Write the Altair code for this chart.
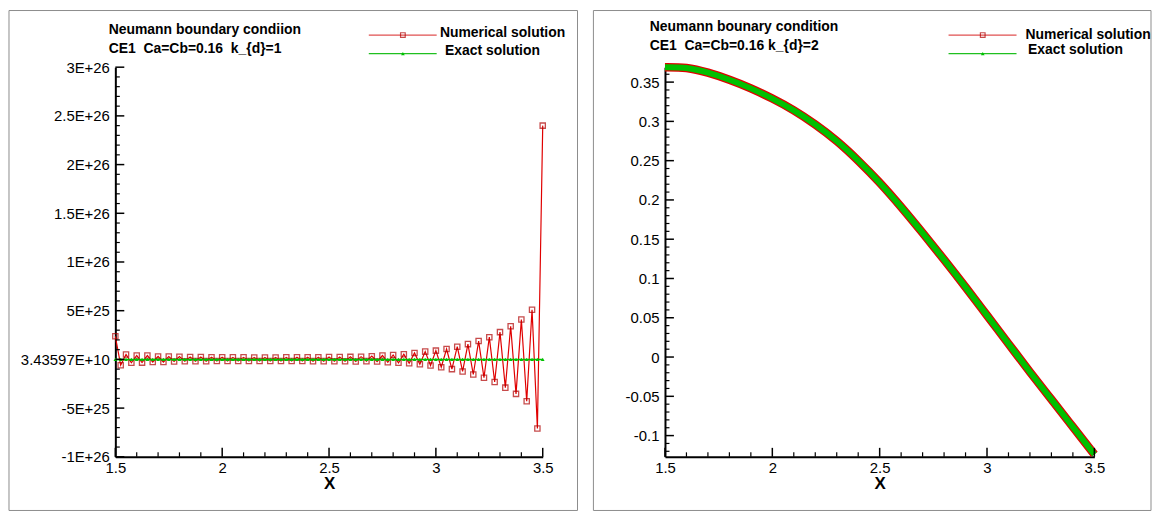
import altair as alt
import pandas as pd

# ---------------- data ----------------
# left panel (k_d = 1): grid 1.5 .. 3.5, step 0.025
x_left = [round(1.5 + 0.025 * i, 3) for i in range(81)]
num_left_e26 = [
    0.237, -0.060, 0.050, -0.035, 0.040, -0.033, 0.040, -0.027, 0.030, -0.027,
    0.030, -0.022, 0.028, -0.020, 0.025, -0.018, 0.024, -0.018, 0.022, -0.017,
    0.022, -0.017, 0.021, -0.016, 0.021, -0.016, 0.020, -0.016, 0.020, -0.016,
    0.020, -0.016, 0.021, -0.017, 0.021, -0.017, 0.022, -0.018, 0.023, -0.018,
    0.024, -0.019, 0.025, -0.020, 0.026, -0.021, 0.028, -0.018, 0.033, -0.022,
    0.040, -0.030, 0.045, -0.035, 0.053, -0.040, 0.066, -0.050, 0.080, -0.063,
    0.090, -0.080, 0.107, -0.100, 0.130, -0.124, 0.157, -0.155, 0.188, -0.188,
    0.228, -0.232, 0.280, -0.290, 0.340, -0.354, 0.410, -0.430, 0.510, -0.710,
    2.400,
]
num_left = [v * 1e26 for v in num_left_e26]
exact_left = [0.0] * 81

# right panel (k_d = 2)
x_right = [1.5, 1.6, 1.7, 1.8, 1.9, 2.0, 2.1, 2.2, 2.3, 2.4, 2.5,
           2.6, 2.7, 2.8, 2.9, 3.0, 3.1, 3.2, 3.3, 3.4, 3.5]
num_right = [0.369, 0.368, 0.362, 0.353, 0.342, 0.329, 0.314, 0.296, 0.275, 0.250, 0.222,
             0.191, 0.158, 0.124, 0.089, 0.053, 0.017, -0.019, -0.054, -0.089, -0.124]
exact_right = [0.369, 0.368, 0.362, 0.353, 0.342, 0.329, 0.314, 0.296, 0.275, 0.250, 0.222,
               0.191, 0.158, 0.124, 0.089, 0.053, 0.017, -0.019, -0.054, -0.089, -0.124]

# ticks
x_major = [1.5, 2.0, 2.5, 3.0, 3.5]
x_major_labels = ["1.5", "2", "2.5", "3", "3.5"]
x_minor = [round(1.5 + 0.1 * k, 2) for k in range(21) if k % 5 != 0]

yl_major = [-1e26, -5e25, 0.0, 5e25, 1e26, 1.5e26, 2e26, 2.5e26, 3e26]
yl_labels = ["-1E+26", "-5E+25", "3.43597E+10", "5E+25", "1E+26", "1.5E+26",
             "2E+26", "2.5E+26", "3E+26"]
yl_minor = [k * 1e25 for k in range(-10, 31) if k % 5 != 0]

yr_major = [-0.1, -0.05, 0.0, 0.05, 0.1, 0.15, 0.2, 0.25, 0.3, 0.35]
yr_labels = ["-0.1", "-0.05", "0", "0.05", "0.1", "0.15", "0.2", "0.25", "0.3", "0.35"]
yr_minor = [round(k * 0.01, 2) for k in range(-12, 37) if k % 5 != 0]

FONT = "Liberation Sans"
RED = "#e00000"
DARK = "#b00000"
GREEN = "#00c000"
FRAME = "#8c8c8c"
H = 392
NB = "\u00a0"


def label_expr(vals, labels, tol):
    e = "''"
    for v, l in zip(vals, labels):
        e = f"abs(datum.value - ({v:.10g})) < {tol:.10g} ? '{l}' : " + e
    return e


one = pd.DataFrame({"a": [0]})


def text(t, x, y, size=14):
    return alt.Chart(one).mark_text(
        align="left", baseline="middle", font=FONT, fontSize=size,
        fontWeight="bold", color="black"
    ).encode(x=alt.value(x), y=alt.value(y), text=alt.value(t))


def seg(x1, x2, y1, y2, color, w=1.2):
    return alt.Chart(one).mark_rule(color=color, strokeWidth=w).encode(
        x=alt.value(x1), x2=alt.value(x2), y=alt.value(y1), y2=alt.value(y2))


def panel(x, num, exact, ydom, ymaj, ylab, ymin, tol, W, titles, legend, frame, dense):
    xs = alt.Scale(domain=[1.5, 3.5], nice=False, zero=False)
    ys = alt.Scale(domain=ydom, nice=False, zero=False)
    xax = alt.Axis(orient="bottom", values=x_major,
                   labelExpr=label_expr(x_major, x_major_labels, 1e-6),
                   ticks=False, grid=False, domainColor="black", domainWidth=2,
                   labelFont=FONT, labelFontSize=15, labelColor="black", labelPadding=4,
                   labelFlush=False, labelOverlap=False, title="X", titleFont=FONT,
                   titleFontSize=17, titleFontWeight="bold", titleColor="black",
                   titlePadding=0)
    yax = alt.Axis(orient="left", values=ymaj, labelExpr=label_expr(ymaj, ylab, tol),
                   ticks=False, grid=False, domainColor="black", domainWidth=2,
                   labelFont=FONT, labelFontSize=15, labelColor="black", labelPadding=6,
                   labelOverlap=False, labelFlush=False, title=None)

    df = pd.DataFrame({"x": x, "num": num, "exact": exact})
    base = alt.Chart(df)
    layers = []
    # frame around the panel (four rules, no fill)
    fx1, fx2, fy1, fy2 = frame
    layers.append(seg(fx1, fx2, fy1, fy1, FRAME, 1))
    layers.append(seg(fx1, fx2, fy2, fy2, FRAME, 1))
    layers.append(seg(fx1, fx1, fy1, fy2, FRAME, 1))
    layers.append(seg(fx2, fx2, fy1, fy2, FRAME, 1))
    if dense:
        layers.append(base.mark_line(color=RED, strokeWidth=8.5, interpolate="natural").encode(
            x=alt.X("x:Q", scale=xs, axis=xax), y=alt.Y("num:Q", scale=ys, axis=yax)))
        layers.append(base.mark_line(color=GREEN, strokeWidth=6, interpolate="natural").encode(
            x=alt.X("x:Q", scale=xs, axis=None), y=alt.Y("exact:Q", scale=ys, axis=None)))
    else:
        layers.append(base.mark_line(color=RED, strokeWidth=1.2).encode(
            x=alt.X("x:Q", scale=xs, axis=xax), y=alt.Y("num:Q", scale=ys, axis=yax)))
        layers.append(base.mark_point(shape="square", size=28, filled=False, color=DARK,
                                      strokeWidth=1.3).encode(
            x=alt.X("x:Q", scale=xs, axis=None), y=alt.Y("num:Q", scale=ys, axis=None)))
        layers.append(base.mark_line(color=GREEN, strokeWidth=1.5).encode(
            x=alt.X("x:Q", scale=xs, axis=None), y=alt.Y("exact:Q", scale=ys, axis=None)))
        layers.append(base.mark_point(shape="triangle-up", size=14, filled=True, color=GREEN,
                                      opacity=1).encode(
            x=alt.X("x:Q", scale=xs, axis=None), y=alt.Y("exact:Q", scale=ys, axis=None)))
    # inward (Tecplot style) ticks
    layers.append(alt.Chart(pd.DataFrame({"v": ymaj})).mark_rule(color="black", strokeWidth=1.5).encode(
        y=alt.Y("v:Q", scale=ys, axis=None), x=alt.value(0), x2=alt.value(9)))
    layers.append(alt.Chart(pd.DataFrame({"v": ymin})).mark_rule(color="black", strokeWidth=1.2).encode(
        y=alt.Y("v:Q", scale=ys, axis=None), x=alt.value(0), x2=alt.value(4.5)))
    layers.append(alt.Chart(pd.DataFrame({"v": x_major})).mark_rule(color="black", strokeWidth=1.5).encode(
        x=alt.X("v:Q", scale=xs, axis=None), y=alt.value(H), y2=alt.value(H - 9)))
    layers.append(alt.Chart(pd.DataFrame({"v": x_minor})).mark_rule(color="black", strokeWidth=1.2).encode(
        x=alt.X("v:Q", scale=xs, axis=None), y=alt.value(H), y2=alt.value(H - 4.5)))
    # titles
    (t1, t1x, t1y), (t2, t2x, t2y) = titles
    layers.append(text(t1, t1x, t1y))
    layers.append(text(t2, t2x, t2y))
    # legend
    lx1, lx2, lm, ly1, ly2, tx1, ty1, tx2, ty2 = legend
    layers.append(seg(lx1, lx2, ly1, ly1, "#e05050"))
    layers.append(alt.Chart(one).mark_point(shape="square", size=22, filled=False, color=DARK,
                                            strokeWidth=1.2).encode(x=alt.value(lm), y=alt.value(ly1)))
    layers.append(text("Numerical solution", tx1, ty1))
    layers.append(seg(lx1, lx2, ly2, ly2, "#20c020"))
    layers.append(alt.Chart(one).mark_point(shape="triangle-up", size=14, filled=True, color=GREEN,
                                            opacity=1).encode(x=alt.value(lm), y=alt.value(ly2)))
    layers.append(text("Exact solution", tx2, ty2))
    return (alt.layer(*layers)
            .resolve_axis(x="independent", y="independent")
            .properties(width=W, height=H))


left = panel(
    x_left, num_left, exact_left, [-1e26, 3e26], yl_major, yl_labels, yl_minor, 1e24, 430,
    titles=[("Neumann boundary condiion", -6.7, -37.3),
            (f"CE1{NB}{NB}Ca=Cb=0.16{NB}{NB}k_{{d}}=1", -6.7, -18.0)],
    legend=(255.0, 323.3, 289.3, -32.3, -13.7, 326.6, -34.5, 331.6, -16.3),
    frame=(-107, 465, -57, 446), dense=False)

right = panel(
    x_right, num_right, exact_right, [-0.127, 0.369], yr_major, yr_labels, yr_minor, 1e-6, 432,
    titles=[("Neumann bounary condition", -15.3, -40.0),
            (f"CE1{NB}{NB}Ca=Cb=0.16 k_{{d}}=2", -15.3, -21.3)],
    legend=(285.3, 353.7, 319.7, -32.3, -13.7, 362.7, -32.7, 365.3, -17.7),
    frame=(-72, 489, -57, 446), dense=True)

chart = alt.hconcat(left, right, spacing=14, padding=0).configure_view(stroke=None)

chart.save("out.html", embed_options={"renderer": "svg", "actions": False})
